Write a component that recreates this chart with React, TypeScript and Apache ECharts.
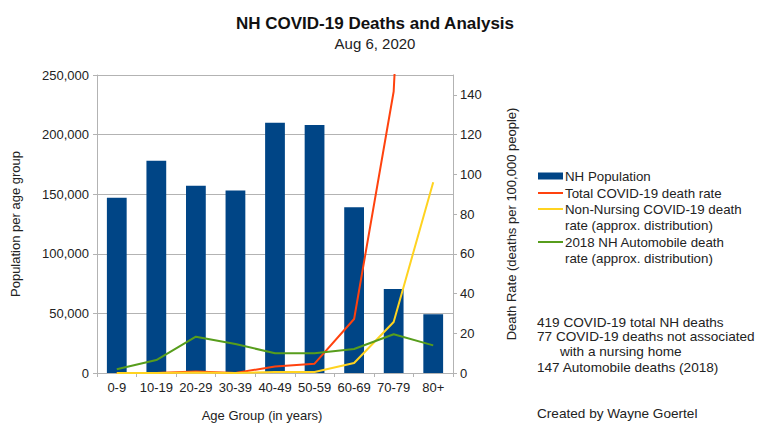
import React, { useEffect, useRef } from "react";
import * as echarts from "echarts";

const categories = ["0-9", "10-19", "20-29", "30-39", "40-49", "50-59", "60-69", "70-79", "80+"];
const population = [147000, 178000, 157000, 153000, 210000, 208000, 139000, 70500, 49200];
const totalCovidRate = [0, 0, 0.7, 0, 3.3, 4.7, 27.2, 141.7, 537];
const nonNursingRate = [0, 0, 0.3, 0, 0.5, 0.5, 5, 25.7, 96];
const autoRate = [1.9, 6.5, 18.3, 14.6, 9.9, 9.9, 12.1, 19.5, 13.9];

const titleText = "NH COVID-19 Deaths and Analysis";
const subtitleText = "Aug 6, 2020";
const leftAxisName = "Population per age group";
const rightAxisName = "Death Rate (deaths per 100,000 people)";
const xAxisName = "Age Group (in years)";

const seriesNames = [
  "NH Population",
  "Total COVID-19 death rate",
  "Non-Nursing COVID-19 death\nrate (approx. distribution)",
  "2018 NH Automobile death\nrate (approx. distribution)",
];
const seriesColors = ["#004586", "#ff420e", "#ffd320", "#579d1c"];

const notes = [
  "419 COVID-19 total NH deaths",
  "77 COVID-19 deaths not associated",
  "with a nursing home",
  "147 Automobile deaths (2018)",
];
const credit = "Created by Wayne Goertel";

const FONT = "'Liberation Sans', Arial, sans-serif";
const TEXT = "#222";
const GRID = "#b3b3b3";

export default function App() {
  const ref = useRef<HTMLDivElement>(null);

  useEffect(() => {
    if (!ref.current) return;
    const chart = echarts.init(ref.current, undefined, { renderer: "svg" });

    const legendX = 538;
    const legendTextX = 565;
    const legendRows = [176, 193, 209, 242];
    const legendGraphics: any[] = [];
    seriesNames.forEach((name, i) => {
      const y = legendRows[i];
      if (i === 0) {
        legendGraphics.push({
          type: "rect",
          shape: { x: legendX, y: y - 3.5, width: 25, height: 7 },
          style: { fill: seriesColors[i] },
        });
      } else {
        legendGraphics.push({
          type: "line",
          shape: { x1: legendX, y1: y, x2: legendX + 25, y2: y },
          style: { stroke: seriesColors[i], lineWidth: 2 },
        });
      }
      legendGraphics.push({
        type: "text",
        x: legendTextX,
        y: y - 8,
        style: {
          text: name,
          font: `13.3px ${FONT}`,
          fill: TEXT,
          lineHeight: 16,
          verticalAlign: "top",
        },
      });
    });

    const noteGraphics: any[] = [
      { x: 537, y: 322, text: notes[0] },
      { x: 537, y: 336, text: notes[1] },
      { x: 560, y: 351.5, text: notes[2] },
      { x: 537, y: 367, text: notes[3] },
      { x: 537, y: 413, text: credit },
    ].map((n) => ({
      type: "text",
      x: n.x,
      y: n.y,
      style: {
        text: n.text,
        font: `13.6px ${FONT}`,
        fill: TEXT,
        verticalAlign: "middle",
      },
    }));

    chart.setOption({
      animation: false,
      textStyle: { fontFamily: FONT },
      title: [
        {
          text: titleText,
          left: 375,
          top: 15,
          padding: 0,
          textAlign: "center",
          textStyle: { fontFamily: FONT, fontSize: 17, fontWeight: "bold", color: "#111" },
        },
        {
          text: subtitleText,
          left: 375,
          top: 36,
          padding: 0,
          textAlign: "center",
          textStyle: { fontFamily: FONT, fontSize: 15, fontWeight: "normal", color: TEXT },
        },
      ],
      grid: { left: 97, right: 315, top: 75, bottom: 64, containLabel: false },
      xAxis: {
        type: "category",
        data: categories,
        boundaryGap: true,
        name: xAxisName,
        nameLocation: "middle",
        nameGap: 36,
        nameTextStyle: { fontSize: 13, color: TEXT, padding: [0, 26, 0, 0] },
        axisLine: { lineStyle: { color: GRID } },
        axisTick: { show: true, length: 4, lineStyle: { color: GRID } },
        axisLabel: { fontSize: 13, color: TEXT, margin: 8, interval: 0 },
      },
      yAxis: [
        {
          type: "value",
          min: 0,
          max: 250000,
          interval: 50000,
          name: leftAxisName,
          nameLocation: "middle",
          nameGap: 75,
          nameRotate: 90,
          nameTextStyle: { fontSize: 13, color: TEXT },
          axisLine: { show: true, lineStyle: { color: GRID } },
          axisTick: { show: true, length: 4, lineStyle: { color: GRID } },
          axisLabel: {
            fontSize: 13,
            color: TEXT,
            margin: 8,
            formatter: (v: number) => v.toLocaleString("en-US"),
          },
          splitLine: { show: true, lineStyle: { color: GRID } },
        },
        {
          type: "value",
          min: 0,
          max: 150,
          interval: 20,
          position: "right",
          name: rightAxisName,
          nameLocation: "middle",
          nameGap: 52,
          nameRotate: 90,
          nameTextStyle: { fontSize: 13, color: TEXT },
          axisLine: { show: true, lineStyle: { color: GRID } },
          axisTick: { show: true, length: 4, lineStyle: { color: GRID } },
          axisLabel: { fontSize: 13, color: TEXT, margin: 7, showMaxLabel: false },
          splitLine: { show: false },
        },
      ],
      series: [
        {
          name: seriesNames[0],
          type: "bar",
          data: population,
          barWidth: "50%",
          itemStyle: { color: seriesColors[0] },
          yAxisIndex: 0,
        },
        {
          name: seriesNames[1],
          type: "line",
          data: totalCovidRate,
          yAxisIndex: 1,
          symbol: "none",
          clip: true,
          lineStyle: { color: seriesColors[1], width: 2 },
          itemStyle: { color: seriesColors[1] },
        },
        {
          name: seriesNames[2],
          type: "line",
          data: nonNursingRate,
          yAxisIndex: 1,
          symbol: "none",
          clip: true,
          lineStyle: { color: seriesColors[2], width: 2 },
          itemStyle: { color: seriesColors[2] },
        },
        {
          name: seriesNames[3],
          type: "line",
          data: autoRate,
          yAxisIndex: 1,
          symbol: "none",
          clip: true,
          lineStyle: { color: seriesColors[3], width: 2 },
          itemStyle: { color: seriesColors[3] },
        },
      ],
      graphic: [...legendGraphics, ...noteGraphics],
    });

    return () => chart.dispose();
  }, []);

  return <div ref={ref} style={{ width: 768, height: 437, position: "absolute", left: 0, top: 0, background: "#fff" }} />;
}
